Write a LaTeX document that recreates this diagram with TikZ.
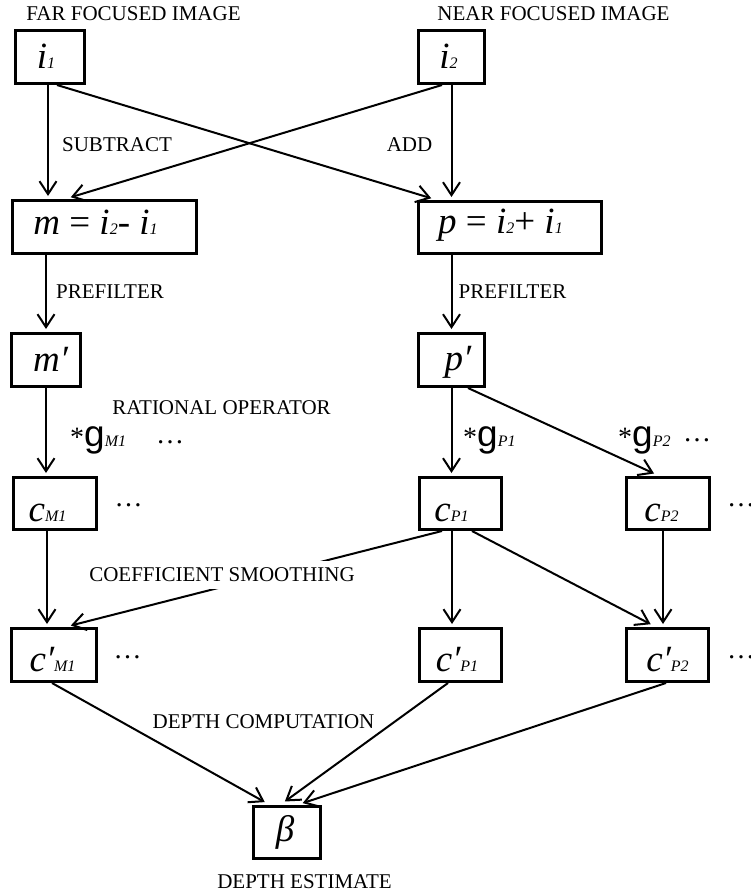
\documentclass[tikz,border=0pt]{standalone}
\usepackage{fontspec}
\setmainfont{Liberation Serif}
\newfontfamily\gfont{Liberation Sans}
\usetikzlibrary{arrows.meta,calc}
\newcommand\ssub[1]{{\fontsize{16}{16}\selectfont\itshape #1}}
\newcommand\gsym[1]{{\fontsize{28}{28}\selectfont *}{\gfont\fontsize{37}{37}\selectfont g}\ssub{#1}}
\tikzset{
  box/.style={draw, line width=3pt, inner sep=0pt, minimum height=53pt},
  lab/.style={font=\fontsize{21}{21}\selectfont, inner sep=0pt},
  mt/.style={font=\fontsize{37}{37}\selectfont\itshape, inner sep=0pt, anchor=base},
  arr/.style={line width=2pt, -{Straight Barb[length=13pt,width=17pt,line width=2pt]}, shorten >=3pt},
  darr/.style={arr, shorten >=6pt},
  dotsl/.style={font=\fontsize{28}{28}\selectfont, inner sep=0pt},
  glab/.style={inner sep=0pt, anchor=base west},
}
\begin{document}
\begin{tikzpicture}[x=1pt,y=-1pt]
\fill[white] (0,0) rectangle (751,895);
\useasboundingbox (0,0) rectangle (751,895);

% boxes
\node[box,minimum width=69pt] (i1) at (50,57) {};
\node[box,minimum width=66pt] (i2) at (451.5,57) {};
\node[box,minimum width=184pt] (m) at (104.5,227) {};
\node[box,minimum width=183pt,minimum height=52pt] (p) at (510,227.5) {};
\node[box,minimum width=69pt] (mp) at (46,360) {};
\node[box,minimum width=66pt] (pp) at (451.5,360) {};
\node[box,minimum width=83pt,minimum height=52pt] (cm1) at (55,503.5) {};
\node[box,minimum width=82pt,minimum height=52pt] (cp1) at (460.5,503.5) {};
\node[box,minimum width=83pt,minimum height=52pt] (cp2) at (667.5,503.5) {};
\node[box,minimum width=85pt] (cpm1) at (54,655) {};
\node[box,minimum width=82pt] (cpp1) at (460.5,655) {};
\node[box,minimum width=82pt] (cpp2) at (667.5,655) {};
\node[box,minimum width=67pt,minimum height=52pt] (beta) at (287,832.5) {};

% box texts
\node[mt] (i1t) at ($(i1.center)+(-4,11)$) {i\ssub{1}};
\node[mt] (i2t) at ($(i2.center)+(-3,11)$) {i\ssub{2}};
\node[mt] (mt) at ($(m.center)+(-9,7)$) {m {\upshape =} i\ssub{2}- i\ssub{1}};
\node[mt] (pt) at ($(p.center)+(-9.5,6)$) {p {\upshape =} i\ssub{2}{\upshape +} i\ssub{1}};
\node[mt] (mpt) at ($(mp.center)+(4.5,11)$) {m′};
\node[mt] (ppt) at ($(pp.center)+(6.5,10)$) {p′};
\node[mt] (cm1t) at ($(cm1.center)+(-7.5,17.5)$) {c\ssub{M1}};
\node[mt] (cp1t) at ($(cp1.center)+(-9,17.5)$) {c\ssub{P1}};
\node[mt] (cp2t) at ($(cp2.center)+(-6,17.5)$) {c\ssub{P2}};
\node[mt] (cpm1t) at ($(cpm1.center)+(-1.5,16.5)$) {c′\ssub{M1}};
\node[mt] (cpp1t) at ($(cpp1.center)+(-3.5,16.5)$) {c′\ssub{P1}};
\node[mt] (cpp2t) at ($(cpp2.center)+(0,16.5)$) {c′\ssub{P2}};
\node[mt] (betat) at ($(beta.center)+(-2,8.5)$) {β};

% labels
\node[lab] (far) at (133.5,14) {FAR FOCUSED IMAGE};
\node[lab] (near) at (553.5,14) {NEAR FOCUSED IMAGE};
\node[lab] (sub) at (117,145) {SUBTRACT};
\node[lab] (add) at (409.5,145) {ADD};
\node[lab] (prel) at (110,292) {PREFILTER};
\node[lab] (prer) at (512.5,292) {PREFILTER};
\node[lab] (rat) at (221.5,408) {RATIONAL OPERATOR};
\node[lab] (dcomp) at (263.5,722) {DEPTH COMPUTATION};
\node[lab] (dest) at (304.5,882) {DEPTH ESTIMATE};

% operator labels
\node[glab] (gm1) at (70,446) {\gsym{M1}};
\node[glab] (gp1) at (463,446) {\gsym{P1}};
\node[glab] (gp2) at (618,446) {\gsym{P2}};

% dots
\node[dotsl] (d1) at (170,442) {…};
\node[dotsl] (d2) at (128.5,505) {…};
\node[dotsl] (d3) at (127.5,657) {…};
\node[dotsl] (d4) at (697,440) {…};
\node[dotsl] (d5) at (741,505) {…};
\node[dotsl] (d6) at (741,657) {…};

% connectors
\draw[arr] ($(i1.south)+(-2,0)$) coordinate (a1) -- (a1 |- m.north);
\draw[arr] (i2.south) -- (i2.south |- p.north);
\draw[darr] ($(i1.south)+(7,0)$) -- ($(p.north west)+(20,0)$);
\draw[darr] ($(i2.south)+(-9.5,0)$) -- ($(m.north west)+(54,0)$);
\draw[arr] (mp.north |- m.south) -- (mp.north);
\draw[arr] (pp.north |- p.south) -- (pp.north);
\draw[arr] (mp.south) -- (mp.south |- cm1.north);
\draw[arr] (pp.south) -- (pp.south |- cp1.north);
\draw[darr] ($(pp.south)+(16.5,0)$) -- ($(cp2.north west)+(35,0)$);
\draw[arr] ($(cm1.south)+(-8,0)$) coordinate (a2) -- (a2 |- cpm1.north);
\draw[darr] ($(cp1.south)+(-18.5,0)$) -- ($(cpm1.north west)+(55,0)$);
\draw[arr] ($(cp1.south)+(-8.5,0)$) coordinate (a3) -- (a3 |- cpp1.north);
\draw[darr] ($(cp1.south)+(11.5,0)$) -- ($(cpp2.north west)+(31,0)$);
\draw[arr] ($(cp2.south)+(-4.5,0)$) coordinate (a4) -- (a4 |- cpp2.north);
\draw[darr] ($(cpm1.south)+(-2,0)$) -- ($(beta.north west)+(18,0)$);
\draw[darr] ($(cpp1.south)+(-12.5,0)$) -- ($(beta.north west)+(28,0)$);
\draw[darr] ($(cpp2.south)+(-1.5,0)$) -- ($(beta.north west)+(45,0)$);

\node[lab, fill=white, inner xsep=2pt, inner ysep=6.5pt] (smooth) at (222,575) {COEFFICIENT SMOOTHING};
\end{tikzpicture}
\end{document}
